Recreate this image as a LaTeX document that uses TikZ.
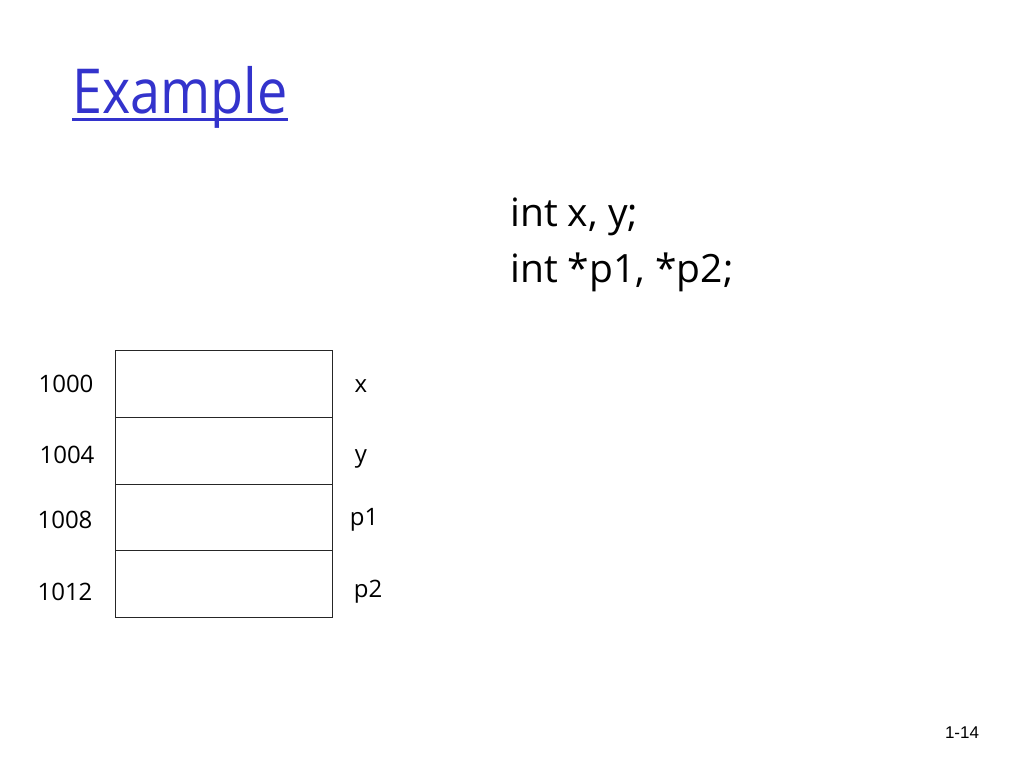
\documentclass[tikz,border=0pt]{standalone}
\usepackage{fontspec}
\setmainfont{Open Sans}
\newfontfamily\arialfont{Liberation Sans}
\definecolor{titleblue}{RGB}{51,51,204}
\begin{document}
\begin{tikzpicture}[x=1pt,y=-1pt,
  cell/.style={draw=black!85,line width=1pt,minimum width=217pt,minimum height=66.75pt,inner sep=0pt,anchor=north west},
  addr/.style={font=\fontsize{24}{28}\selectfont,anchor=base,inner sep=0pt},
  var/.style={font=\fontsize{24}{28}\selectfont,anchor=base,inner sep=0pt},
  code/.style={font=\fontsize{39}{46}\selectfont,anchor=base west,inner sep=0pt}]
\useasboundingbox (0,0) rectangle (1024,768);
\node[font=\fontsize{62}{70}\selectfont,text=titleblue,anchor=base west,inner sep=0pt] (title) at (72,113) {\scalebox{0.87}[1]{Example}};
\draw[titleblue,line width=3pt] ([yshift=-6pt]title.base west) -- ([yshift=-6pt]title.base east);
\node[code] (c1) at (510,226) {int x, y;};
\node[code] (c2) at (510,282) {int *p1, *p2;};
\node[cell] (m0) at (115,350) {};
\node[cell] (m1) at (115,416.75) {};
\node[cell] (m2) at (115,483.5) {};
\node[cell] (m3) at (115,550.25) {};
\node[addr] (a0) at (66,392) {1000};
\node[addr] (a1) at (67,463) {1004};
\node[addr] (a2) at (65,528) {1008};
\node[addr] (a3) at (65,600) {1012};
\node[var] (v0) at (361,392) {x};
\node[var] (v1) at (361,462) {y};
\node[var] (v2) at (364,525) {p1};
\node[var] (v3) at (368,597) {p2};
\node[font=\arialfont\fontsize{17}{20}\selectfont,anchor=center] (pg) at (962,733) {1-14};
\end{tikzpicture}
\end{document}
